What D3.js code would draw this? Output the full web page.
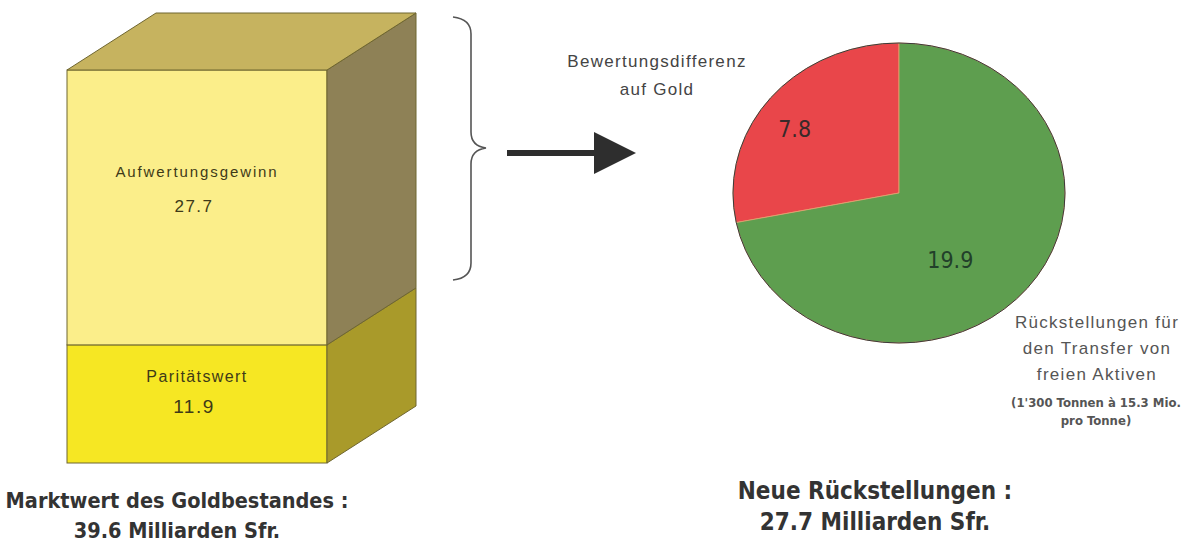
<!DOCTYPE html>
<html>
<head>
<meta charset="utf-8">
<script src="https://cdn.jsdelivr.net/npm/d3@7/dist/d3.min.js"></script>
<style>
  body { margin: 0; background: #fff; }
  svg { display: block; }
</style>
</head>
<body>
<div id="chart"></div>
<script>
// values of the gold stock (bottom to top), billions Sfr.
const stackLabels = ["Paritätswert", "Aufwertungsgewinn"];
const stackValues = [11.9, 27.7];
const stackFront = ["#f6e723", "#fbee8a"];
const stackSide = ["#a99a2a", "#8e8156"];

// new provisions pie
const pieNames = ["Bewertungsdifferenz", "Rückstellungen"];
const pieValues = [7.8, 19.9];
const pieColors = ["#e9464a", "#5e9e4f"];

const titleLeft = ["Marktwert des Goldbestandes :", "39.6 Milliarden Sfr."];
const titleRight = ["Neue Rückstellungen :", "27.7 Milliarden Sfr."];
const redLabel = ["Bewertungsdifferenz", "auf Gold"];
const greenLabel = ["Rückstellungen für", "den Transfer von", "freien Aktiven"];
const greenNote = ["(1'300 Tonnen à 15.3 Mio.", "pro Tonne)"];

const W = 1194, H = 546;
const svg = d3.select("#chart").append("svg")
    .attr("width", W)
    .attr("height", H);

// ---- 3D stacked box ----
const total = d3.sum(stackValues);
const y = d3.scaleLinear().domain([0, total]).range([463, 70]);
const x0 = 67, x1 = 327, dx = 89, dy = -57;

let acc = 0;
const segs = stackValues.map((v, i) => {
    const s = {lo: acc, hi: acc + v, v: v, i: i};
    acc += v;
    return s;
});

const box = svg.append("g");
segs.forEach(s => {
    const yt = y(s.hi), yb = y(s.lo);
    box.append("rect")
        .attr("x", x0).attr("y", yt)
        .attr("width", x1 - x0).attr("height", yb - yt)
        .attr("fill", stackFront[s.i])
        .attr("stroke", "#6f6630").attr("stroke-width", 1);
    box.append("path")
        .attr("d", `M${x1},${yt} L${x1 + dx},${yt + dy} L${x1 + dx},${yb + dy} L${x1},${yb} Z`)
        .attr("fill", stackSide[s.i])
        .attr("stroke", "#6f6630").attr("stroke-width", 1);
});
// top face
const yTop = y(total);
box.append("path")
    .attr("d", `M${x0},${yTop} L${x0 + dx},${yTop + dy} L${x1 + dx},${yTop + dy} L${x1},${yTop} Z`)
    .attr("fill", "#c6b35f")
    .attr("stroke", "#6f6630").attr("stroke-width", 1);

// box labels
const labelOff = [[-22, 31], [-30, 35]];
const labelSpacing = [1.4, 1.9];
segs.forEach(s => {
    const cx = (x0 + x1) / 2;
    const ym = (y(s.hi) + y(s.lo)) / 2 + labelOff[s.i][0];
    box.append("text")
        .attr("x", cx).attr("y", ym)
        .attr("text-anchor", "middle")
        .attr("font-family", "Liberation Sans, Arial, sans-serif")
        .attr("font-size", s.i === 1 ? 15 : 16)
        .attr("letter-spacing", labelSpacing[s.i])
        .attr("fill", "#3e3a18")
        .text(stackLabels[s.i]);
    box.append("text")
        .attr("x", cx - 3).attr("y", ym + labelOff[s.i][1])
        .attr("text-anchor", "middle")
        .attr("font-family", "Liberation Sans, Arial, sans-serif")
        .attr("font-size", s.i === 1 ? 17 : 19)
        .attr("letter-spacing", 1.5)
        .attr("fill", "#3e3a18")
        .text(s.v.toFixed(1));
});

// brace
svg.append("path")
    .attr("d", "M453,17 Q471,19 471,34 L471,132 Q471,146 486,148 Q471,150 471,164 L471,263 Q471,278 453,280")
    .attr("fill", "none")
    .attr("stroke", "#555")
    .attr("stroke-width", 1.6);

// arrow
svg.append("line")
    .attr("x1", 507).attr("y1", 153)
    .attr("x2", 600).attr("y2", 153)
    .attr("stroke", "#2e2e2e").attr("stroke-width", 6);
svg.append("path")
    .attr("d", "M594,132 L636,153 L594,174 Z")
    .attr("fill", "#2e2e2e");

// ---- pie ----
const cx = 899, cy = 193, rx = 166, ry = 150;
const pieSum = d3.sum(pieValues);
const a0 = -2 * Math.PI * pieValues[0] / pieSum;
const pie = d3.pie().sort(null).startAngle(a0).endAngle(a0 + 2 * Math.PI);
const arc = d3.arc().innerRadius(0).outerRadius(ry);
const arcs = pie(pieValues);

const pg = svg.append("g")
    .attr("transform", `translate(${cx},${cy}) scale(${rx / ry},1)`);
pg.selectAll("path.slice")
    .data(arcs)
    .join("path")
    .attr("class", "slice")
    .attr("d", arc)
    .attr("fill", (d, i) => pieColors[i])
    .attr("stroke", "#e8a070")
    .attr("stroke-width", 0.8)
    .attr("vector-effect", "non-scaling-stroke");
pg.append("ellipse")
    .attr("rx", ry).attr("ry", ry)
    .attr("fill", "none")
    .attr("stroke", "#3a3a3a")
    .attr("stroke-width", 1)
    .attr("vector-effect", "non-scaling-stroke");

// slice values
const labelArc = d3.arc().innerRadius(ry * 0.68).outerRadius(ry * 0.68);
const valOffsets = [[-17, 9], [-36, 10]];
arcs.forEach((d, i) => {
    const c = labelArc.centroid(d);
    svg.append("text")
        .attr("x", cx + c[0] * rx / ry + valOffsets[i][0])
        .attr("y", cy + c[1] + valOffsets[i][1])
        .attr("text-anchor", "middle")
        .attr("font-family", "DejaVu Sans Condensed, DejaVu Sans, sans-serif")
        .attr("font-stretch", "condensed")
        .attr("font-size", 23)
        .attr("fill", i === 0 ? "#3a2a2a" : "#22402a")
        .text(pieValues[i].toFixed(1));
});

// side labels
function lines(arr, x, y0, lh, opts) {
    arr.forEach((t, i) => {
        const el = svg.append("text")
            .attr("x", x).attr("y", y0 + i * lh)
            .attr("text-anchor", "middle")
            .attr("font-family", opts.family)
            .attr("font-size", opts.size)
            .attr("font-weight", opts.weight || "normal")
            .attr("fill", opts.fill)
            .text(t);
        if (opts.spacing) el.attr("letter-spacing", opts.spacing);
        if (opts.stretch) el.attr("font-stretch", opts.stretch);
    });
}

lines(redLabel, 657, 67, 28, {family: "Liberation Sans, Arial, sans-serif", size: 17, fill: "#444", spacing: 1.3});
lines(greenLabel, 1097, 328, 26, {family: "Liberation Sans, Arial, sans-serif", size: 17, fill: "#555", spacing: 1.3});
lines(greenNote, 1096, 407, 18, {family: "DejaVu Sans Condensed, DejaVu Sans, sans-serif", size: 13, weight: "bold", fill: "#555", stretch: "condensed"});

// titles
const boldOpts = {family: "DejaVu Sans Condensed, DejaVu Sans, sans-serif", weight: "bold", fill: "#333", stretch: "condensed"};
lines(titleLeft, 177, 508, 30, Object.assign({size: 21.5}, boldOpts));
lines(titleRight, 875, 499, 31, Object.assign({size: 24}, boldOpts));
</script>
</body>
</html>
